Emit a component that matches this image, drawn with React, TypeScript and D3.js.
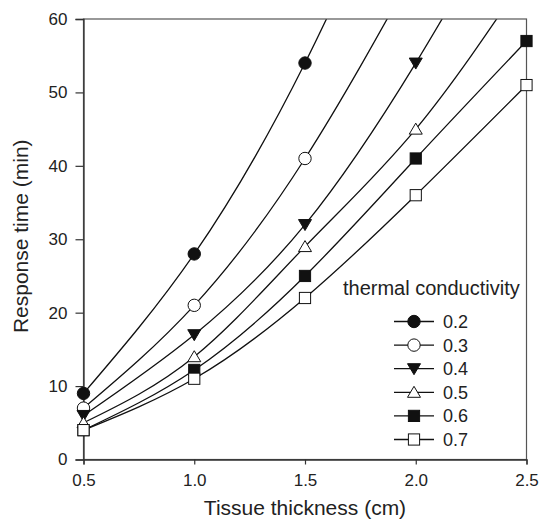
import React, { useEffect, useRef } from 'react';
import * as d3 from 'd3';

// values (points above 60 are off the chart, only used to shape the curve)
const thickness = [0.5, 1.0, 1.5, 2.0, 2.5];
const conductivity = ['0.2', '0.3', '0.4', '0.5', '0.6', '0.7'];
const k02 = [9, 28, 54, 87];
const k03 = [7, 21, 41, 67];
const k04 = [6, 17, 32, 54, 80];
const k05 = [5, 14, 29, 45, 66];
const k06 = [4, 12.2, 25, 41, 57];
const k07 = [4, 11, 22, 36, 51];
const markers = ['circleFilled', 'circleOpen', 'triDown', 'triUpOpen', 'squareFilled', 'squareOpen'];
const xTicks = [0.5, 1.0, 1.5, 2.0, 2.5];
const yTicks = [0, 10, 20, 30, 40, 50, 60];

const FONT = '"Liberation Sans", Arial, sans-serif';

function drawMarker(g: any, kind: string, cx: number, cy: number) {
  var filled = kind === 'circleFilled' || kind === 'triDown' || kind === 'squareFilled';
  var fill = filled ? '#111' : '#fff';
  var el;
  if (kind.indexOf('circle') === 0) {
    el = g.append('circle').attr('cx', cx).attr('cy', cy).attr('r', 6.2);
  } else if (kind.indexOf('square') === 0) {
    el = g.append('rect').attr('x', cx - 5.6).attr('y', cy - 5.6).attr('width', 11.2).attr('height', 11.2);
  } else if (kind === 'triDown') {
    el = g.append('path').attr('d', `M${cx - 6.5},${cy - 5} L${cx + 6.5},${cy - 5} L${cx},${cy + 6} Z`);
  } else {
    el = g.append('path').attr('d', `M${cx - 6.5},${cy + 5} L${cx + 6.5},${cy + 5} L${cx},${cy - 6} Z`);
  }
  el.attr('fill', fill).attr('stroke', '#111').attr('stroke-width', 1);
}

export default function App() {
  const ref = useRef<SVGSVGElement>(null);

  useEffect(() => {
    var svg = d3.select(ref.current);
    svg.selectAll('*').remove();

    var margin = { top: 19, right: 12.5, bottom: 62, left: 83.5 };
    var width = 539 - margin.left - margin.right;
    var height = 522 - margin.top - margin.bottom - 0.5;

    var x = d3.scaleLinear().domain([0.5, 2.5]).range([0, width]);
    var y = d3.scaleLinear().domain([0, 60]).range([height, 0]);

    var g = svg.append('g').attr('transform', `translate(${margin.left},${margin.top})`);

    g.append('clipPath').attr('id', 'plot-clip')
      .append('rect').attr('width', width).attr('height', height);

    var allSeries = [k02, k03, k04, k05, k06, k07];

    var line = d3.line<number>()
      .x((d, i) => x(thickness[i]))
      .y(d => y(d))
      .curve(d3.curveNatural);

    var lines = g.append('g').attr('clip-path', 'url(#plot-clip)');
    allSeries.forEach(s => {
      lines.append('path')
        .attr('d', line(s))
        .attr('fill', 'none')
        .attr('stroke', '#111')
        .attr('stroke-width', 1.3);
    });

    // frame
    g.append('rect')
      .attr('width', width).attr('height', height)
      .attr('fill', 'none').attr('stroke', '#555').attr('stroke-width', 1.2);

    var yAxis = g.append('g')
      .call(d3.axisLeft(y).tickValues(yTicks).tickSize(8).tickPadding(8));
    var xAxis = g.append('g')
      .attr('transform', `translate(0,${height})`)
      .call(d3.axisBottom(x).tickValues(xTicks).tickSize(5).tickPadding(9).tickFormat(d3.format('.1f')));

    [xAxis, yAxis].forEach(a => {
      a.select('.domain').attr('stroke', '#333').attr('stroke-width', 1.3);
      a.selectAll('.tick line').attr('stroke', '#333').attr('stroke-width', 1.2);
      a.selectAll('.tick text').attr('fill', '#222').style('font', `17px ${FONT}`);
    });

    var pts = g.append('g');
    allSeries.forEach((s, k) => {
      s.forEach((v, i) => {
        if (v <= 60) drawMarker(pts, markers[k], x(thickness[i]), y(v));
      });
    });

    g.append('text')
      .attr('x', width / 2)
      .attr('y', height + 55)
      .attr('text-anchor', 'middle')
      .attr('fill', '#222')
      .style('font', `21px ${FONT}`)
      .text('Tissue thickness (cm)');

    g.append('text')
      .attr('transform', `translate(${28 - margin.left},${height / 2 - 3}) rotate(-90)`)
      .attr('text-anchor', 'middle')
      .attr('fill', '#222')
      .style('font', `21px ${FONT}`)
      .text('Response time (min)');

    // legend
    var lg = svg.append('g');
    lg.append('text')
      .attr('x', 343).attr('y', 295)
      .attr('fill', '#222')
      .style('font', `20px ${FONT}`)
      .text('thermal conductivity');

    conductivity.forEach((c, i) => {
      var cy = 321.5 + i * 23.6;
      lg.append('line')
        .attr('x1', 394).attr('x2', 434).attr('y1', cy).attr('y2', cy)
        .attr('stroke', '#111').attr('stroke-width', 1.3);
      drawMarker(lg, markers[i], 414, cy);
      lg.append('text')
        .attr('x', 443).attr('y', cy + 6.5)
        .attr('fill', '#222')
        .style('font', `18px ${FONT}`)
        .text(c);
    });
  }, []);

  return (
    <svg ref={ref} width={539} height={522}
      style={{ position: 'absolute', left: 0, top: 0, background: '#fff' }} />
  );
}
